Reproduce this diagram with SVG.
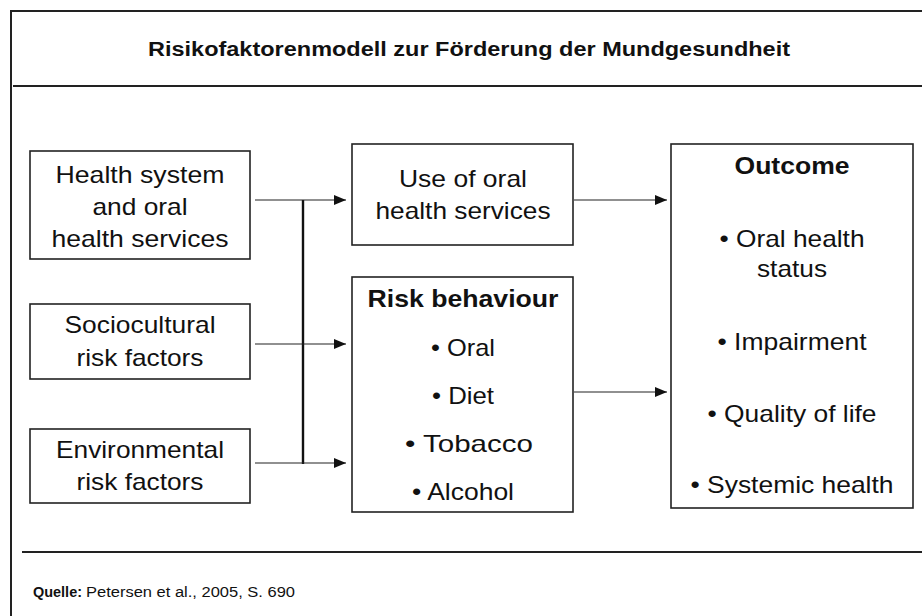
<svg xmlns="http://www.w3.org/2000/svg" width="922" height="616" viewBox="0 0 922 616">
<defs>
<style>
text{font-family:"Liberation Sans",Arial,sans-serif;fill:#111;text-anchor:middle}
.t{font-size:24px}
.b{font-size:24px;font-weight:bold}
.title{font-size:20px;font-weight:bold}
.f{font-size:14px;text-anchor:start}
.box{fill:#fff;stroke:#222;stroke-width:1.6}
.rule{stroke:#222;stroke-width:2;fill:none}
.c{stroke:#222;stroke-width:1.2;fill:none}
.v{stroke:#111;stroke-width:2.4;fill:none}
</style>
<marker id="ah" markerWidth="12" markerHeight="10" refX="12" refY="5" orient="auto" markerUnits="userSpaceOnUse">
<path d="M0,0 L12,5 L0,10 Z" fill="#111"/>
</marker>
</defs>
<rect width="922" height="616" fill="#fff"/>
<path class="rule" d="M11,616 V11 H922"/>
<line class="rule" x1="13" y1="86" x2="922" y2="86"/>
<line class="rule" x1="22" y1="552" x2="922" y2="552"/>
<text class="title" x="469" y="56" textLength="642" lengthAdjust="spacingAndGlyphs">Risikofaktorenmodell zur Förderung der Mundgesundheit</text>

<g id="health-system">
<rect class="box" x="30" y="151" width="220" height="108"/>
<text class="t" x="140" y="183" textLength="169" lengthAdjust="spacingAndGlyphs">Health system</text>
<text class="t" x="140" y="215" textLength="95" lengthAdjust="spacingAndGlyphs">and oral</text>
<text class="t" x="140" y="247" textLength="177" lengthAdjust="spacingAndGlyphs">health services</text>
</g>
<g id="sociocultural">
<rect class="box" x="30" y="304" width="220" height="75"/>
<text class="t" x="140" y="333" textLength="151" lengthAdjust="spacingAndGlyphs">Sociocultural</text>
<text class="t" x="140" y="366" textLength="127" lengthAdjust="spacingAndGlyphs">risk factors</text>
</g>
<g id="environmental">
<rect class="box" x="30" y="429" width="220" height="74"/>
<text class="t" x="140" y="458" textLength="168" lengthAdjust="spacingAndGlyphs">Environmental</text>
<text class="t" x="140" y="490" textLength="127" lengthAdjust="spacingAndGlyphs">risk factors</text>
</g>
<g id="use-services">
<rect class="box" x="352" y="144" width="221" height="101"/>
<text class="t" x="463" y="187" textLength="128" lengthAdjust="spacingAndGlyphs">Use of oral</text>
<text class="t" x="463" y="219" textLength="175" lengthAdjust="spacingAndGlyphs">health services</text>
</g>
<g id="risk-behaviour">
<rect class="box" x="352" y="277" width="221" height="235"/>
<text class="b" x="463" y="307" textLength="191" lengthAdjust="spacingAndGlyphs">Risk behaviour</text>
<text class="t" x="463" y="356" textLength="64" lengthAdjust="spacingAndGlyphs">• Oral</text>
<text class="t" x="463" y="404" textLength="62" lengthAdjust="spacingAndGlyphs">• Diet</text>
<text class="t" x="469" y="452" textLength="128" lengthAdjust="spacingAndGlyphs">• Tobacco</text>
<text class="t" x="463" y="500" textLength="102" lengthAdjust="spacingAndGlyphs">• Alcohol</text>
</g>
<g id="outcome">
<rect class="box" x="671" y="144" width="242" height="364"/>
<text class="b" x="792" y="174" textLength="115" lengthAdjust="spacingAndGlyphs">Outcome</text>
<text class="t" x="792" y="247" textLength="145" lengthAdjust="spacingAndGlyphs">• Oral health</text>
<text class="t" x="792" y="277" textLength="70" lengthAdjust="spacingAndGlyphs">status</text>
<text class="t" x="792" y="350" textLength="149" lengthAdjust="spacingAndGlyphs">• Impairment</text>
<text class="t" x="792" y="422" textLength="169" lengthAdjust="spacingAndGlyphs">• Quality of life</text>
<text class="t" x="792" y="493" textLength="203" lengthAdjust="spacingAndGlyphs">• Systemic health</text>
</g>
<g id="connectors">
<line class="v" x1="303" y1="200" x2="303" y2="464"/>
<line class="c" x1="255" y1="200" x2="346" y2="200" marker-end="url(#ah)"/>
<line class="c" x1="255" y1="344" x2="346" y2="344" marker-end="url(#ah)"/>
<line class="c" x1="255" y1="463" x2="346" y2="463" marker-end="url(#ah)"/>
<line class="c" x1="574" y1="200" x2="667" y2="200" marker-end="url(#ah)"/>
<line class="c" x1="574" y1="392" x2="667" y2="392" marker-end="url(#ah)"/>
</g>
<text class="f" x="33" y="597" font-weight="bold" textLength="49" lengthAdjust="spacingAndGlyphs">Quelle:</text>
<text class="f" x="86" y="597" textLength="209" lengthAdjust="spacingAndGlyphs">Petersen et al., 2005, S. 690</text>
</svg>
